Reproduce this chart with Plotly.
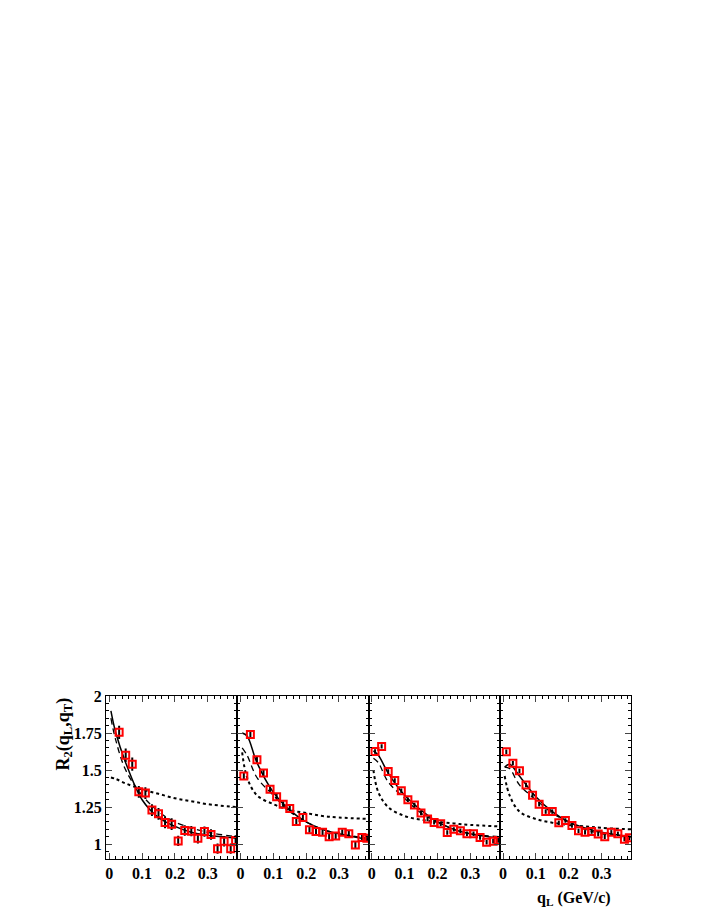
import plotly.graph_objects as go

# measured points, four q_T bins
x_p1 = [0.03, 0.05, 0.07, 0.09, 0.11, 0.13, 0.15, 0.17, 0.19, 0.21, 0.23, 0.25, 0.27, 0.29, 0.31, 0.33, 0.35, 0.37, 0.385]
y_p1 = [1.755, 1.60, 1.54, 1.353, 1.345, 1.23, 1.205, 1.147, 1.135, 1.022, 1.092, 1.088, 1.04, 1.085, 1.065, 0.97, 1.02, 0.97, 1.025]
e_p1 = [0.045, 0.045, 0.045, 0.04, 0.04, 0.04, 0.04, 0.04, 0.04, 0.035, 0.035, 0.035, 0.035, 0.035, 0.035, 0.035, 0.035, 0.035, 0.035]

x_p = [0.01, 0.03, 0.05, 0.07, 0.09, 0.11, 0.13, 0.15, 0.17, 0.19, 0.21, 0.23, 0.25, 0.27, 0.29, 0.31, 0.33, 0.35, 0.37, 0.385]
y_p2 = [1.46, 1.74, 1.57, 1.48, 1.37, 1.32, 1.27, 1.24, 1.153, 1.18, 1.097, 1.086, 1.08, 1.05, 1.055, 1.08, 1.07, 0.995, 1.045, 1.04]
y_p3 = [1.626, 1.66, 1.49, 1.43, 1.36, 1.30, 1.265, 1.21, 1.17, 1.147, 1.138, 1.079, 1.10, 1.09, 1.07, 1.07, 1.045, 1.013, 1.02, 1.025]
y_p4 = [1.624, 1.547, 1.495, 1.40, 1.33, 1.27, 1.22, 1.22, 1.144, 1.16, 1.126, 1.09, 1.08, 1.085, 1.068, 1.05, 1.08, 1.07, 1.034, 1.043]

# model curves
x_c = [0.005, 0.02, 0.05, 0.1, 0.15, 0.2, 0.25, 0.3, 0.39]
solid = [
    [1.90, 1.75, 1.55, 1.30, 1.18, 1.12, 1.08, 1.06, 1.04],
    [1.75, 1.73, 1.55, 1.35, 1.23, 1.15, 1.10, 1.07, 1.03],
    [1.63, 1.60, 1.48, 1.33, 1.23, 1.15, 1.10, 1.07, 1.04],
    [1.52, 1.54, 1.46, 1.32, 1.22, 1.15, 1.11, 1.08, 1.05],
]
dashed = [
    [1.85, 1.70, 1.50, 1.33, 1.22, 1.15, 1.11, 1.08, 1.05],
    [1.65, 1.60, 1.45, 1.33, 1.22, 1.15, 1.10, 1.07, 1.04],
    [1.58, 1.55, 1.42, 1.31, 1.21, 1.15, 1.10, 1.07, 1.05],
    [1.52, 1.51, 1.40, 1.30, 1.21, 1.15, 1.10, 1.07, 1.05],
]
dotted = [
    [1.45, 1.44, 1.41, 1.37, 1.34, 1.31, 1.29, 1.27, 1.25],
    [1.62, 1.45, 1.33, 1.27, 1.23, 1.21, 1.19, 1.18, 1.17],
    [1.50, 1.35, 1.25, 1.19, 1.165, 1.15, 1.14, 1.13, 1.12],
    [1.46, 1.33, 1.22, 1.17, 1.145, 1.13, 1.12, 1.11, 1.10],
]
points = [(x_p1, y_p1, e_p1), (x_p, y_p2, [0.02] * 20), (x_p, y_p3, [0.015] * 20), (x_p, y_p4, [0.015] * 20)]

tick_font = dict(family="Liberation Serif", size=16, color="black", weight="bold")
fig = go.Figure()
bounds = [0, 0.25, 0.5, 0.75, 1.0]

for i in range(4):
    n = "" if i == 0 else str(i + 1)
    xa, ya = "x" + n, "y" + n
    fig.add_trace(go.Scatter(x=x_c, y=dotted[i], mode="lines", line=dict(color="black", width=2, dash="dot", shape="spline"), xaxis=xa, yaxis=ya))
    fig.add_trace(go.Scatter(x=x_c, y=dashed[i], mode="lines", line=dict(color="black", width=1.3, dash="6px,4px", shape="spline"), xaxis=xa, yaxis=ya))
    fig.add_trace(go.Scatter(x=x_c, y=solid[i], mode="lines", line=dict(color="black", width=1.5, shape="spline"), xaxis=xa, yaxis=ya))
    px, py, pe = points[i]
    fig.add_trace(go.Scatter(x=px, y=py, mode="markers",
                             error_y=dict(type="data", array=pe, color="black", thickness=2, width=0),
                             marker=dict(symbol="square-open", size=7, color="red", line=dict(width=2)),
                             xaxis=xa, yaxis=ya))
    fig.layout["xaxis" + n] = dict(domain=[bounds[i], bounds[i + 1]], range=[-0.01, 0.39],
                                   tickvals=[0, 0.1, 0.2, 0.3], ticktext=["0", "0.1", "0.2", "0.3"],
                                   ticks="inside", ticklen=6, mirror="ticks", showline=True, linecolor="black",
                                   linewidth=1, showgrid=False, zeroline=False, anchor=ya,
                                   minor=dict(dtick=0.02, ticks="inside", ticklen=3, tickcolor="black"),
                                   tickfont=tick_font)
    fig.layout["yaxis" + n] = dict(range=[0.9, 2.0], tickvals=[1, 1.25, 1.5, 1.75, 2],
                                   ticktext=["1", "1.25", "1.5", "1.75", "2"],
                                   showticklabels=(i == 0), ticks="inside", ticklen=6, mirror="ticks",
                                   showline=True, linecolor="black", linewidth=1, showgrid=False,
                                   zeroline=False, anchor=xa,
                                   minor=dict(dtick=0.05, ticks="inside", ticklen=3, tickcolor="black"),
                                   tickfont=tick_font)

fig.add_annotation(text="<b>R<sub>2</sub>(q<sub>L</sub>,q<sub>T</sub>)</b>", textangle=-90, xref="paper", yref="paper",
                   x=-0.08, y=1.0, xanchor="center", yanchor="top", showarrow=False,
                   font=dict(family="Liberation Serif", size=18, color="black"))
fig.add_annotation(text="<b>q<sub>L</sub> (GeV/c)</b>", xref="paper", yref="paper", x=0.965, y=-0.17,
                   xanchor="right", yanchor="top", showarrow=False,
                   font=dict(family="Liberation Serif", size=16, color="black"))

fig.update_layout(width=708, height=917, showlegend=False, plot_bgcolor="white", paper_bgcolor="white",
                  margin=dict(l=98, r=85, t=688, b=66))
fig.write_html("out.html")
